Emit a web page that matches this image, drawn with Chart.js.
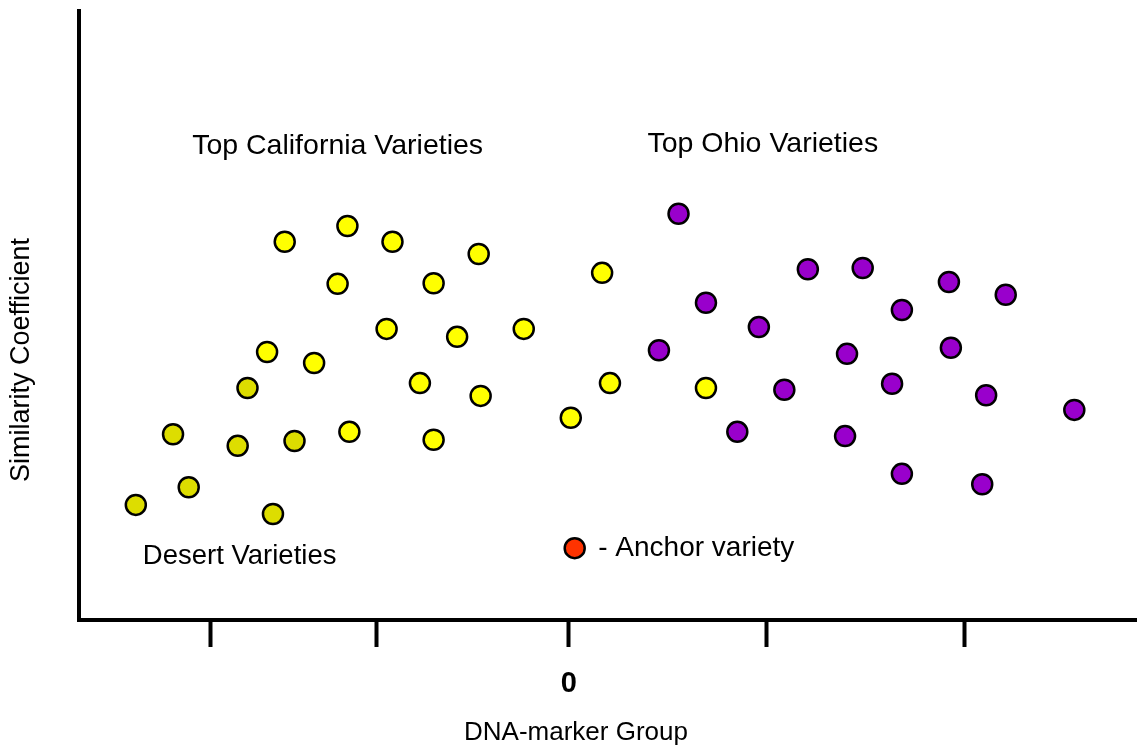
<!DOCTYPE html>
<html>
<head>
<meta charset="utf-8">
<script src="https://cdn.jsdelivr.net/npm/chart.js@4/dist/chart.umd.min.js"></script>
<style>
    html, body { margin: 0; padding: 0; background: #fff; }
    #chart { display: block; }
</style>
</head>
<body>
<canvas id="chart" width="1137" height="746"></canvas>
<script>
// values (x: marker group, 0 in the middle; y: similarity 0-100)
const desertX = [-22.1, -19.4, -20.2, -16.9, -15.1, -16.4, -14.0];
const desertY = [18.9, 21.8, 30.5, 28.6, 17.4, 38.1, 29.4];

const californiaX = [-14.5, -11.3, -9.0, -11.8, -6.9, -4.6, -9.3, -5.7, -2.3, -15.4,
    -13.0, -7.6, -4.5, -11.2, -6.9, 0.1, 1.7, 2.1, 7.0];
const californiaY = [62.1, 64.7, 62.1, 55.2, 55.3, 60.1, 47.8, 46.5, 47.8, 44.0,
    42.2, 38.9, 36.8, 30.9, 29.6, 33.2, 57.0, 38.9, 38.1];

const ohioX = [5.6, 7.0, 9.7, 4.6, 12.2, 15.0, 17.0, 19.4, 22.3, 14.2,
    19.5, 16.5, 11.0, 21.3, 25.8, 8.6, 14.1, 17.0, 21.1];
const ohioY = [66.7, 52.1, 48.1, 44.3, 57.6, 57.8, 50.9, 55.5, 53.4, 43.7,
    44.7, 38.8, 37.8, 36.9, 34.5, 30.9, 30.2, 24.0, 22.3];

const anchorX = [0.3];
const anchorY = [11.8];

// tick marks under the x axis, only the middle one is labelled
const xTickValues = [-18.3, -9.8, 0, 10.1, 20.2];
const xTickLabels = ["", "", "0", "", ""];

const FONT = "'Liberation Sans', Arial, sans-serif";

// text notes, placed in data units
const notes = [
    { text: "Top California Varieties", x: -11.8, y: 77.8, align: "center", size: 28.5 },
    { text: "Top Ohio Varieties", x: 9.9, y: 78.2, align: "center", size: 28.5 },
    { text: "Desert Varieties", x: -16.8, y: 10.5, align: "center", size: 27.5 },
    { text: "- Anchor variety", x: 1.5, y: 11.8, align: "left", size: 28 },
];

function toPoints(xs, ys) {
    return xs.map((x, i) => ({ x: x, y: ys[i] }));
}

function pointSet(label, xs, ys, color) {
    return {
        label: label,
        data: toPoints(xs, ys),
        pointRadius: 10,
        pointHoverRadius: 10,
        pointBackgroundColor: color,
        pointBorderColor: "#000",
        pointBorderWidth: 2.5,
        showLine: false,
    };
}

// draws the free text: notes, axis titles
const textPlugin = {
    id: "texts",
    afterDraw(chart) {
        const ctx = chart.ctx;
        const xs = chart.scales.x;
        const ys = chart.scales.y;
        ctx.save();
        ctx.fillStyle = "#000";
        ctx.textBaseline = "middle";
        notes.forEach((n) => {
            ctx.font = n.size + "px " + FONT;
            ctx.textAlign = n.align;
            ctx.fillText(n.text, xs.getPixelForValue(n.x), ys.getPixelForValue(n.y));
        });

        // x axis title
        ctx.font = "26px " + FONT;
        ctx.textAlign = "center";
        ctx.fillText("DNA-marker Group", 576, 733);

        // y axis title
        ctx.font = "27px " + FONT;
        ctx.translate(22, 360);
        ctx.rotate(-Math.PI / 2);
        ctx.fillText("Similarity Coefficient", 0, 0);
        ctx.restore();
    },
};

const ctx = document.getElementById("chart").getContext("2d");

new Chart(ctx, {
    type: "scatter",
    data: {
        datasets: [
            pointSet("Desert Varieties", desertX, desertY, "#dddd00"),
            pointSet("Top California Varieties", californiaX, californiaY, "#ffff00"),
            pointSet("Top Ohio Varieties", ohioX, ohioY, "#9900cc"),
            pointSet("Anchor variety", anchorX, anchorY, "#ff3300"),
        ],
    },
    options: {
        responsive: false,
        devicePixelRatio: 1,
        animation: false,
        layout: {
            autoPadding: false,
            padding: { top: 11, right: 0, bottom: 0, left: 0 },
        },
        scales: {
            x: {
                type: "linear",
                min: -25,
                max: 29,
                afterBuildTicks: (scale) => {
                    scale.ticks = xTickValues.map((v) => ({ value: v }));
                },
                afterFit: (scale) => {
                    scale.height = 126;
                },
                grid: {
                    drawOnChartArea: false,
                    drawTicks: true,
                    tickLength: 27,
                    tickWidth: 4,
                    tickColor: "#000",
                },
                border: { display: true, color: "#000", width: 4 },
                ticks: {
                    autoSkip: false,
                    maxRotation: 0,
                    padding: 20,
                    color: "#000",
                    font: { family: FONT, size: 29, weight: "bold" },
                    callback: function (value, index) {
                        return xTickLabels[index];
                    },
                },
            },
            y: {
                type: "linear",
                min: 0,
                max: 100,
                afterFit: (scale) => {
                    scale.width = 79;
                },
                grid: { display: false, drawTicks: false },
                border: { display: true, color: "#000", width: 4 },
                ticks: { display: false },
            },
        },
        plugins: {
            legend: { display: false },
            tooltip: { enabled: false },
        },
    },
    plugins: [textPlugin],
});
</script>
</body>
</html>
